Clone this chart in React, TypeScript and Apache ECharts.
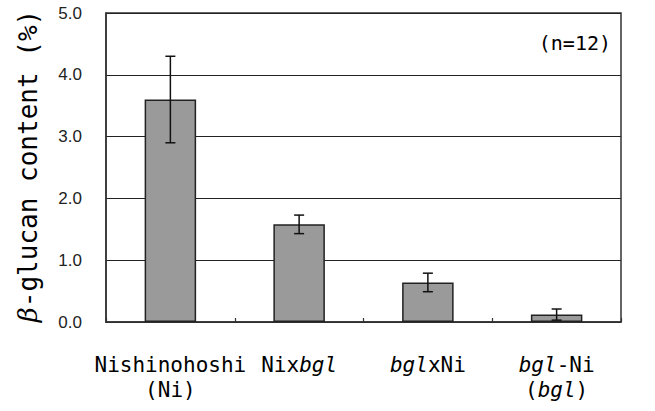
import React, { useEffect, useRef } from "react";
import * as echarts from "echarts";

const categories = ["Nishinohoshi (Ni)", "Nixbgl", "bglxNi", "bgl-Ni (bgl)"];
const categoryLabels = [
  "{n|Nishinohoshi}\n{n|(Ni)}",
  "{n|Nix}{i|bgl}",
  "{i|bgl}{n|xNi}",
  "{i|bgl}{n|-Ni}\n{n|(}{i|bgl}{n|)}",
];
const means = [3.6, 1.58, 0.64, 0.12];
const errors = [0.7, 0.15, 0.15, 0.09];
const yTicks = [0, 1, 2, 3, 4, 5];

const MONO = "'DejaVu Sans Mono', 'Liberation Mono', monospace";

export default function App() {
  const ref = useRef<HTMLDivElement>(null);
  useEffect(() => {
    if (!ref.current) return;
    const chart = echarts.init(ref.current, undefined, { renderer: "svg" });
    const errData = means.map((m, i) => [i, m - errors[i], m + errors[i]]);
    chart.setOption({
      animation: false,
      grid: {
        left: 106,
        right: 34,
        top: 13,
        bottom: 89,
        show: true,
        borderColor: "#333",
        borderWidth: 1.5,
        backgroundColor: "#fff",
      },
      xAxis: {
        type: "category",
        data: categories,
        axisLine: { lineStyle: { color: "#333", width: 1.5 } },
        axisTick: { show: true, inside: true, length: 4, lineStyle: { color: "#333", width: 1.2 } },
        axisLabel: {
          interval: 0,
          margin: 30,
          formatter: (_v: string, idx: number) => categoryLabels[idx],
          rich: {
            n: { fontFamily: MONO, fontSize: 21, color: "#000", lineHeight: 25 },
            i: { fontFamily: MONO, fontSize: 21, color: "#000", lineHeight: 25, fontStyle: "italic" },
          },
        },
      },
      yAxis: {
        type: "value",
        min: yTicks[0],
        max: yTicks[yTicks.length - 1],
        interval: 1,
        axisLine: { show: true, lineStyle: { color: "#333", width: 1.5 } },
        axisTick: { show: false },
        axisLabel: {
          margin: 24,
          formatter: (v: number) => v.toFixed(1),
          fontFamily: "'Liberation Sans', Arial, sans-serif",
          fontSize: 17,
          color: "#222",
        },
        splitLine: { show: true, lineStyle: { color: "#222", width: 1.2 } },
      },
      graphic: [
        {
          type: "text",
          x: 28,
          y: 166,
          rotation: Math.PI / 2,
          style: {
            text: "{b|β}{t|-glucan content (%)}",
            align: "center",
            verticalAlign: "middle",
            rich: {
              b: { fontFamily: "'DejaVu Serif', serif", fontStyle: "italic", fontSize: 26, fill: "#000" },
              t: { fontFamily: MONO, fontSize: 26, fill: "#000" },
            },
          },
        },
        {
          type: "text",
          right: 44,
          top: 33,
          style: { text: "(n=12)", fontFamily: MONO, fontSize: 20, fill: "#000" },
        },
      ],
      series: [
        {
          type: "bar",
          data: means,
          barWidth: "40%",
          itemStyle: { color: "#9a9a9a", borderColor: "#222", borderWidth: 1.5 },
        },
        {
          type: "custom",
          data: errData,
          z: 10,
          renderItem: (params: any, api: any) => {
            const x = api.value(0);
            const lo = api.coord([x, api.value(1)]);
            const hi = api.coord([x, api.value(2)]);
            const hw = 5;
            const style = { stroke: "#111", lineWidth: 1.5 };
            return {
              type: "group",
              children: [
                { type: "line", shape: { x1: lo[0], y1: lo[1], x2: hi[0], y2: hi[1] }, style },
                { type: "line", shape: { x1: lo[0] - hw, y1: lo[1], x2: lo[0] + hw, y2: lo[1] }, style },
                { type: "line", shape: { x1: hi[0] - hw, y1: hi[1], x2: hi[0] + hw, y2: hi[1] }, style },
              ],
            };
          },
        },
      ],
    });
    return () => chart.dispose();
  }, []);
  return (
    <div
      ref={ref}
      style={{ width: 655, height: 411, position: "absolute", left: 0, top: 0, background: "#fff" }}
    />
  );
}
